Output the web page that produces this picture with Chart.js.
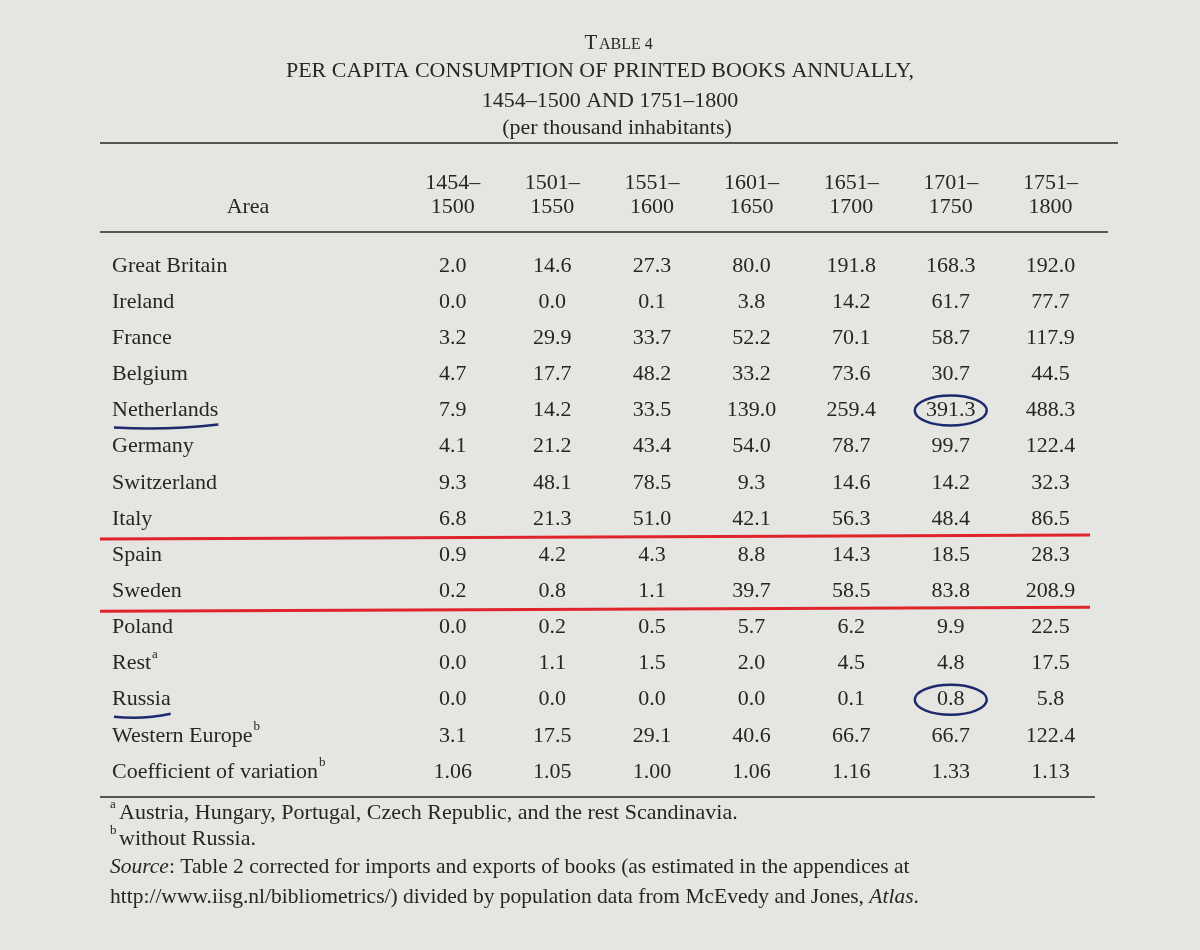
<!DOCTYPE html>
<html>
<head>
<meta charset="utf-8">
<script src="https://cdn.jsdelivr.net/npm/chart.js@4/dist/chart.umd.min.js"></script>
<style>
  body { margin: 0; background: #e5e5e2; }
  #wrap { width: 1200px; height: 950px; }
</style>
</head>
<body>
<div id="wrap"><canvas id="tbl" width="1200" height="950"></canvas></div>
<script>
const periodsTop = ["1454–", "1501–", "1551–", "1601–", "1651–", "1701–", "1751–"];
const periodsBottom = ["1500", "1550", "1600", "1650", "1700", "1750", "1800"];
const areas = ["Great Britain", "Ireland", "France", "Belgium", "Netherlands", "Germany",
  "Switzerland", "Italy", "Spain", "Sweden", "Poland", "Rest", "Russia",
  "Western Europe", "Coefficient of variation"];
const areaNotes = ["", "", "", "", "", "", "", "", "", "", "", "a", "", "b", "b"];
const values = [
  ["2.0", "14.6", "27.3", "80.0", "191.8", "168.3", "192.0"],
  ["0.0", "0.0", "0.1", "3.8", "14.2", "61.7", "77.7"],
  ["3.2", "29.9", "33.7", "52.2", "70.1", "58.7", "117.9"],
  ["4.7", "17.7", "48.2", "33.2", "73.6", "30.7", "44.5"],
  ["7.9", "14.2", "33.5", "139.0", "259.4", "391.3", "488.3"],
  ["4.1", "21.2", "43.4", "54.0", "78.7", "99.7", "122.4"],
  ["9.3", "48.1", "78.5", "9.3", "14.6", "14.2", "32.3"],
  ["6.8", "21.3", "51.0", "42.1", "56.3", "48.4", "86.5"],
  ["0.9", "4.2", "4.3", "8.8", "14.3", "18.5", "28.3"],
  ["0.2", "0.8", "1.1", "39.7", "58.5", "83.8", "208.9"],
  ["0.0", "0.2", "0.5", "5.7", "6.2", "9.9", "22.5"],
  ["0.0", "1.1", "1.5", "2.0", "4.5", "4.8", "17.5"],
  ["0.0", "0.0", "0.0", "0.0", "0.1", "0.8", "5.8"],
  ["3.1", "17.5", "29.1", "40.6", "66.7", "66.7", "122.4"],
  ["1.06", "1.05", "1.00", "1.06", "1.16", "1.33", "1.13"]
];
const circled = [[4, 5], [12, 5]];      // [row, column]
const underlined = [4, 12];             // area names underlined in pen
const redRuleAfter = [7, 9];            // red lines below these rows

const INK = "#262624";
const SERIF = "'Liberation Serif', 'DejaVu Serif', serif";

const datasets = periodsTop.map((p, c) => ({
  label: p + periodsBottom[c],
  data: values.map((row, r) => ({ x: c + 1, y: r, t: row[c] })),
  pointRadius: 0
}));

// draws a line of text made of [string, italic] pieces
function runs(ctx, parts, x, y, size) {
  parts.forEach(([s, it]) => {
    ctx.font = (it ? "italic " : "") + size + "px " + SERIF;
    ctx.fillText(s, x, y);
    x += ctx.measureText(s).width;
  });
}

const tablePlugin = {
  id: "tablePlugin",
  afterDatasetsDraw(chart) {
    const ctx = chart.ctx;
    const xs = chart.scales.x, ys = chart.scales.y;
    ctx.save();
    ctx.fillStyle = INK;
    ctx.textBaseline = "middle";

    // title
    ctx.textAlign = "center";
    ctx.font = "21px " + SERIF;
    ctx.fillText("T", 591, 43);
    ctx.font = "16px " + SERIF;
    ctx.textAlign = "left";
    ctx.fillText("ABLE 4", 599, 45);
    ctx.textAlign = "center";
    ctx.font = "22px " + SERIF;
    ctx.fillText("PER CAPITA CONSUMPTION OF PRINTED BOOKS ANNUALLY,", 600, 71);
    ctx.fillText("1454–1500 AND 1751–1800", 610, 101);
    ctx.fillText("(per thousand inhabitants)", 617, 128);

    // rules
    ctx.strokeStyle = INK;
    ctx.lineWidth = 1.5;
    [[143, 100, 1118], [232, 100, 1108], [797, 100, 1095]].forEach(([y, a, b]) => {
      ctx.beginPath(); ctx.moveTo(a, y); ctx.lineTo(b, y); ctx.stroke();
    });

    // column heads
    ctx.font = "22px " + SERIF;
    periodsTop.forEach((p, c) => {
      const x = xs.getPixelForValue(c + 1);
      ctx.fillText(p, x, 183);
      ctx.fillText(periodsBottom[c], x, 207);
    });
    ctx.fillText("Area", 248, 207);

    // row names
    ctx.textAlign = "left";
    areas.forEach((a, r) => {
      const y = ys.getPixelForValue(r);
      ctx.font = "22px " + SERIF;
      ctx.fillText(a, 112, y);
      if (areaNotes[r]) {
        const w = ctx.measureText(a).width;
        ctx.font = "13px " + SERIF;
        ctx.fillText(areaNotes[r], 113 + w, y - 9);
      }
    });

    // cells
    ctx.textAlign = "center";
    ctx.font = "22px " + SERIF;
    chart.data.datasets.forEach((ds, i) => {
      chart.getDatasetMeta(i).data.forEach((pt, j) => {
        ctx.fillText(ds.data[j].t, pt.x, pt.y);
      });
    });

    // red pen lines
    ctx.strokeStyle = "#e0242b";
    ctx.lineWidth = 3;
    redRuleAfter.forEach(r => {
      const y = (ys.getPixelForValue(r) + ys.getPixelForValue(r + 1)) / 2;
      ctx.beginPath(); ctx.moveTo(100, y + 2); ctx.lineTo(1090, y - 2); ctx.stroke();
    });

    // blue pen marks
    ctx.strokeStyle = "#1e2a6e";
    ctx.lineWidth = 2.5;
    circled.forEach(([r, c]) => {
      ctx.beginPath();
      ctx.ellipse(xs.getPixelForValue(c + 1), ys.getPixelForValue(r), 36, 15, 0, 0, Math.PI * 2);
      ctx.stroke();
    });
    underlined.forEach(r => {
      const y = ys.getPixelForValue(r) + 17;
      ctx.font = "22px " + SERIF;
      const w = ctx.measureText(areas[r]).width;
      ctx.beginPath(); ctx.moveTo(114, y); ctx.quadraticCurveTo(114 + w / 2, y + 3, 112 + w, y - 3); ctx.stroke();
    });

    // footnotes
    ctx.fillStyle = INK;
    ctx.textAlign = "left";
    ctx.font = "13px " + SERIF;
    ctx.fillText("a", 110, 805);
    ctx.fillText("b", 110, 831);
    runs(ctx, [["Austria, Hungary, Portugal, Czech Republic, and the rest Scandinavia.", false]], 119, 813, 22);
    runs(ctx, [["without Russia.", false]], 119, 839, 22);
    runs(ctx, [["Source", true], [": Table 2 corrected for imports and exports of books (as estimated in the appendices at", false]], 110, 867, 21.5);
    runs(ctx, [["http://www.iisg.nl/bibliometrics/) divided by population data from McEvedy and Jones, ", false], ["Atlas", true], [".", false]], 110, 897, 21.5);
    ctx.restore();
  }
};

new Chart(document.getElementById("tbl"), {
  type: "scatter",
  data: { datasets },
  options: {
    responsive: false,
    animation: false,
    layout: { padding: { left: 353, right: 50, top: 266, bottom: 178 } },
    plugins: { legend: { display: false }, tooltip: { enabled: false } },
    scales: {
      x: { type: "linear", min: 0, max: 8, display: false },
      y: { type: "linear", min: 0, max: 14, reverse: true, display: false }
    }
  },
  plugins: [tablePlugin]
});
</script>
</body>
</html>
